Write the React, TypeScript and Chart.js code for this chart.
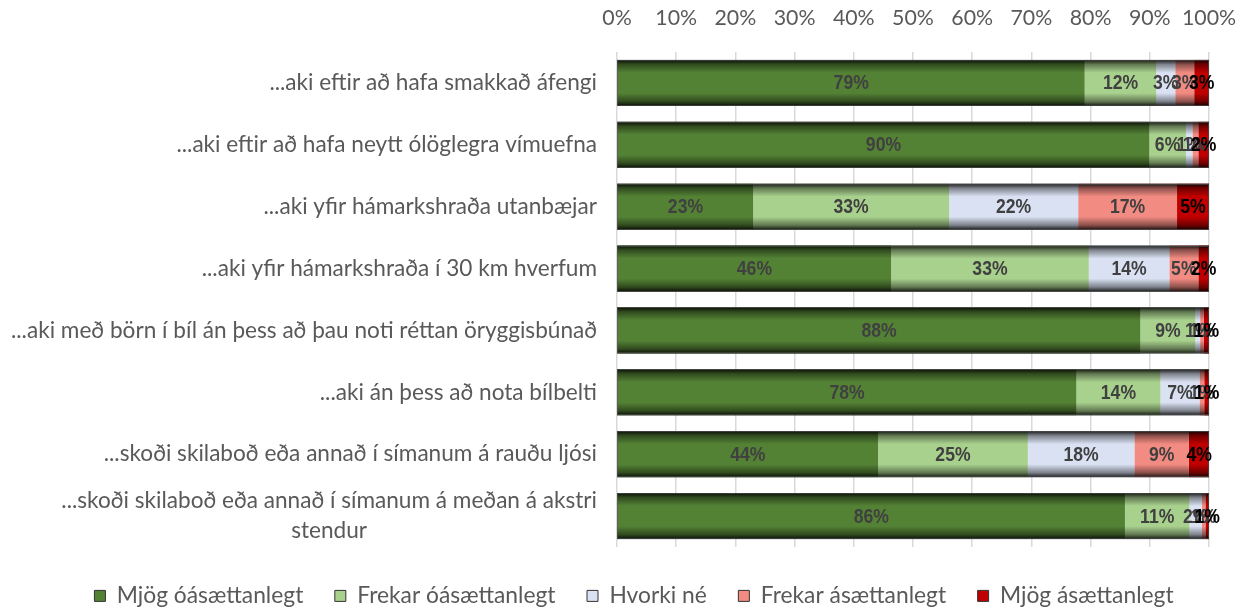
import React, { useEffect, useRef } from "react";
import { Chart, registerables } from "chart.js";

Chart.register(...registerables);

const categories: string[][] = [
  ["...aki eftir að hafa smakkað áfengi"],
  ["...aki eftir að hafa neytt ólöglegra vímuefna"],
  ["...aki yfir hámarkshraða utanbæjar"],
  ["...aki yfir hámarkshraða í 30 km hverfum"],
  ["...aki með börn í bíl án þess að þau noti réttan öryggisbúnað"],
  ["...aki án þess að nota bílbelti"],
  ["...skoði skilaboð eða annað í símanum á rauðu ljósi"],
  ["...skoði skilaboð eða annað í símanum á meðan á akstri", "stendur"],
];

const seriesNames = [
  "Mjög óásættanlegt",
  "Frekar óásættanlegt",
  "Hvorki né",
  "Frekar ásættanlegt",
  "Mjög ásættanlegt",
];

const mjogOasaett = [79.0, 89.9, 23.0, 46.3, 88.4, 77.6, 44.1, 85.8];
const frekarOasaett = [12.1, 6.2, 33.1, 33.4, 9.3, 14.2, 25.3, 10.9];
const hvorkiNe = [3.2, 1.1, 21.8, 13.6, 0.8, 6.6, 18.0, 2.1];
const frekarAsaett = [3.2, 1.0, 16.7, 4.9, 0.6, 0.8, 9.2, 0.6];
const mjogAsaett = [2.5, 1.8, 5.4, 1.8, 0.9, 0.8, 3.5, 0.6];

const seriesColors = ["#548235", "#A9D18E", "#D9E1F2", "#F28B82", "#C00000"];
const xTicks = [0, 10, 20, 30, 40, 50, 60, 70, 80, 90, 100];

const LABEL_FONT = "Lato, 'Open Sans', sans-serif";
const VALUE_FONT = "'Liberation Sans', Arial, sans-serif";

const PAD_LEFT = 59;
const PAD_RIGHT = 41;

const barDecor = {
  id: "barDecor",
  afterDatasetsDraw(chart: any) {
    const ctx = chart.ctx;
    const xs = chart.scales.x;
    const meta0 = chart.getDatasetMeta(0);
    meta0.data.forEach((el: any, i: number) => {
      const { y, height } = el.getProps(["y", "height"], true);
      const top = y - height / 2;
      let total = 0;
      chart.data.datasets.forEach((ds: any) => (total += ds.data[i]));
      const x0 = xs.getPixelForValue(0);
      const x1 = xs.getPixelForValue(Math.min(total, 100));
      const g = ctx.createLinearGradient(0, top, 0, top + height);
      g.addColorStop(0, "rgba(0,0,0,0.88)");
      g.addColorStop(0.1, "rgba(0,0,0,0.42)");
      g.addColorStop(0.28, "rgba(0,0,0,0)");
      g.addColorStop(0.72, "rgba(0,0,0,0)");
      g.addColorStop(0.9, "rgba(0,0,0,0.42)");
      g.addColorStop(1, "rgba(0,0,0,0.88)");
      ctx.save();
      ctx.fillStyle = g;
      ctx.fillRect(x0, top, x1 - x0, height);
      ctx.strokeStyle = "rgba(70,70,70,0.8)";
      ctx.lineWidth = 1;
      ctx.strokeRect(Math.round(x0) + 0.5, Math.round(top) + 0.5, Math.round(x1 - x0) - 1, Math.round(height) - 1);
      ctx.restore();
    });
    chart.data.datasets.forEach((ds: any, di: number) => {
      const meta = chart.getDatasetMeta(di);
      meta.data.forEach((el: any, i: number) => {
        const { x, y, base } = el.getProps(["x", "y", "base"], true);
        const cx = (x + base) / 2;
        ctx.save();
        ctx.font = "bold 20px " + VALUE_FONT;
        ctx.textAlign = "center";
        ctx.textBaseline = "middle";
        ctx.fillStyle = di === 4 ? "#000000" : "#404040";
        ctx.translate(cx, y + 1);
        ctx.scale(0.88, 1);
        ctx.fillText(Math.round(ds.data[i]) + "%", 0, 0);
        ctx.restore();
      });
    });
    const ys = chart.scales.y;
    ctx.save();
    ctx.font = "22.6px " + LABEL_FONT;
    ctx.fillStyle = "#595959";
    ctx.textAlign = "center";
    ctx.textBaseline = "middle";
    const rightX = xs.getPixelForValue(0) - 20;
    const lh = 30;
    categories.forEach((lines, i) => {
      const cy = ys.getPixelForValue(i);
      const w = Math.max(...lines.map((l) => ctx.measureText(l).width));
      const cx = rightX - w / 2;
      const startY = cy - ((lines.length - 1) * lh) / 2;
      lines.forEach((l, k) => ctx.fillText(l, cx, startY + k * lh));
    });
    ctx.restore();
  },
};

export default function App() {
  const ref = useRef<HTMLCanvasElement>(null);
  useEffect(() => {
    if (!ref.current) return;
    const allSeries = [mjogOasaett, frekarOasaett, hvorkiNe, frekarAsaett, mjogAsaett];
    const chart = new Chart(ref.current, {
      type: "bar",
      data: {
        labels: categories.map((c) => c.join(" ")),
        datasets: allSeries.map((d, i) => ({
          label: seriesNames[i],
          data: d,
          backgroundColor: seriesColors[i],
          borderWidth: 0,
          barPercentage: 0.745,
          categoryPercentage: 1,
        })),
      },
      options: {
        indexAxis: "y",
        responsive: false,
        animation: false,
        layout: { padding: { top: 0, bottom: 3, left: PAD_LEFT, right: PAD_RIGHT } },
        scales: {
          x: {
            position: "top",
            stacked: true,
            min: 0,
            max: 100,
            afterFit: (s: any) => {
              s.height = 52;
            },
            afterBuildTicks: (s: any) => {
              s.ticks = xTicks.map((v) => ({ value: v }));
            },
            ticks: {
              callback: (v: any) => v + "%",
              color: "#595959",
              font: { size: 21.3, family: LABEL_FONT },
              padding: 0,
              maxRotation: 0,
              autoSkip: false,
            },
            grid: {
              color: "#d9d9d9",
              lineWidth: 1.5,
              drawTicks: true,
              tickLength: 21,
              tickColor: "rgba(0,0,0,0)",
            },
            border: { display: false },
          },
          y: {
            stacked: true,
            afterFit: (s: any) => {
              s.width = 617 - PAD_LEFT;
            },
            ticks: { display: false },
            grid: { display: false, drawTicks: false },
            border: { display: false },
          },
        },
        plugins: {
          legend: {
            position: "bottom",
            maxHeight: 62,
            title: { display: true, text: "", font: { size: 6, lineHeight: 1 }, padding: 0 },
            labels: {
              boxWidth: 11,
              boxHeight: 11,
              padding: 31.5,
              color: "#595959",
              font: { size: 22.8, family: LABEL_FONT },
              generateLabels: (ch: any) =>
                ch.data.datasets.map((ds: any, i: number) => ({
                  text: ds.label,
                  fillStyle: seriesColors[i],
                  strokeStyle: "#333333",
                  lineWidth: 1,
                  hidden: false,
                  datasetIndex: i,
                  fontColor: "#595959",
                })),
            },
          },
          tooltip: { enabled: false },
        },
      },
      plugins: [barDecor],
    } as any);
    return () => chart.destroy();
  }, []);
  return (
    <div style={{ position: "absolute", left: 0, top: 0, width: 1250, height: 612, background: "#fff" }}>
      <canvas ref={ref} width={1250} height={612} style={{ display: "block" }} />
    </div>
  );
}
